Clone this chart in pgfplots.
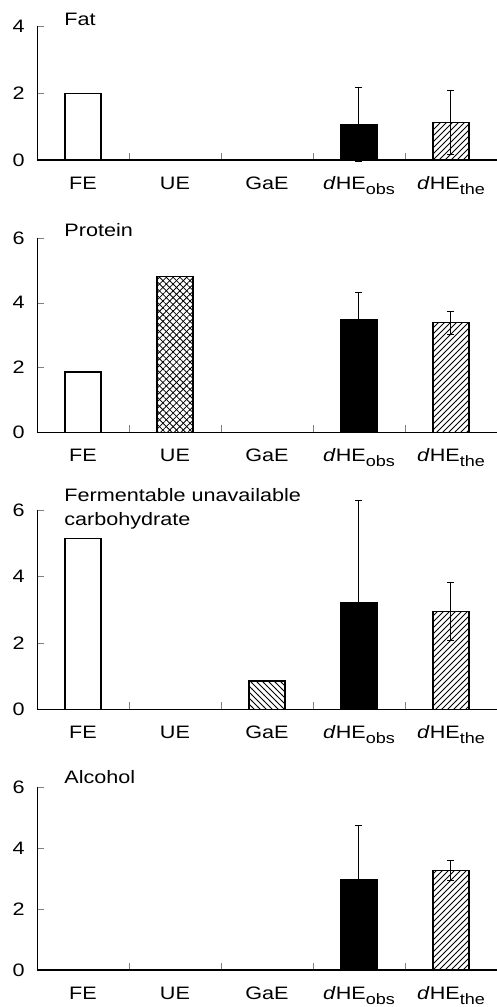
\documentclass[border=0pt]{standalone}
\usepackage{pgfplots}
\pgfplotsset{compat=1.18}
\usetikzlibrary{patterns,patterns.meta}
\usepackage{fontspec}
\setmainfont{Liberation Sans}[FakeStretch=1.2]

\newcommand{\sub}[1]{\raisebox{-2.6pt}{\fontsize{7.5}{8}\selectfont #1}}

% one px of the reference = 0.5pt
\pgfplotsset{
  panel/.style={
    scale only axis, width=230pt, anchor=south west,
    xmin=-0.5, xmax=4.5, ymin=0,
    axis x line=bottom, axis y line=left,
    axis line style={-},
    x axis line style={line width=0.6pt},
    y axis line style={line width=0.4pt},
    xtick={0,1,2,3,4},
    xticklabels={FE,UE,GaE,\textit{d}HE\sub{obs},\textit{d}HE\sub{the}},
    major x tick style={draw=none},
    minor xtick={0.5,1.5,2.5,3.5},
    minor tick style={line width=0.4pt},
    ytick distance=2,
    tick align=inside,
    major tick length=3.5pt, minor tick length=3.5pt,
    xticklabel style={anchor=base, yshift=-14.5pt},
    yticklabel style={xshift=-3pt},
    /pgf/number format/assume math mode=true,
    clip=false,
  },
  bars/.style={ybar, bar width=0.39, bar shift=0pt, draw=black, line width=0.6pt},
  err/.style={error bars/.cd, y dir=both, y explicit,
    error bar style={line width=0.5pt, black},
    error mark options={rotate=90, mark size=1.75pt, line width=0.5pt, black}},
}

\begin{document}
\fontsize{9}{10}\selectfont
\begin{tikzpicture}
\useasboundingbox (0,0) rectangle (248.5pt,-503.5pt);

% Fat
\begin{axis}[panel, at={(18.5pt,-80pt)}, height=67pt, ymax=4]
\addplot[bars, fill=white] coordinates {(0,1.98)};
\addplot[bars, fill=black, err] coordinates {(3,1.05) +- (0,1.10)};
\addplot[bars, pattern=north east lines, err] coordinates {(4,1.12) +- (0,0.95)};
\node[anchor=base west] at (rel axis cs:0,1) [xshift=10.5pt, yshift=0.5pt] {Fat};
\end{axis}

% Protein
\begin{axis}[panel, at={(18.5pt,-216.15pt)}, height=97.15pt, ymax=6]
\addplot[bars, fill=white] coordinates {(0,1.86)};
\addplot[bars, pattern={Lines[angle=45,distance=2.4pt,line width=0.4pt]}] coordinates {(1,4.81)};
\addplot[bars, pattern={Lines[angle=-45,distance=2.4pt,line width=0.4pt]}] coordinates {(1,4.81)};
\addplot[bars, fill=black, err] coordinates {(3,3.49) +- (0,0.82)};
\addplot[bars, pattern=north east lines, err] coordinates {(4,3.38) +- (0,0.35)};
\node[anchor=base west] at (rel axis cs:0,1) [xshift=10.5pt, yshift=1pt] {Protein};
\end{axis}

% Fermentable unavailable carbohydrate
\begin{axis}[panel, at={(18.5pt,-354.65pt)}, height=99.65pt, ymax=6]
\addplot[bars, fill=white] coordinates {(0,5.15)};
\addplot[bars, pattern=north west lines] coordinates {(2,0.85)};
\addplot[bars, fill=black, err] coordinates {(3,3.22) +- (0,3.06)};
\addplot[bars, pattern=north east lines, err] coordinates {(4,2.95) +- (0,0.87)};
\node[anchor=base west] at (rel axis cs:0,1) [xshift=10.5pt, yshift=4.15pt] {Fermentable unavailable};
\node[anchor=base west] at (rel axis cs:0,1) [xshift=10.5pt, yshift=-7.5pt] {carbohydrate};
\end{axis}

% Alcohol
\begin{axis}[panel, at={(18.5pt,-485pt)}, height=91.5pt, ymax=6]
\addplot[bars, fill=black, err] coordinates {(3,2.95) +- (0,1.78)};
\addplot[bars, pattern=north east lines, err] coordinates {(4,3.26) +- (0,0.34)};
\node[anchor=base west] at (rel axis cs:0,1) [xshift=10.5pt, yshift=1.85pt] {Alcohol};
\end{axis}

\end{tikzpicture}
\end{document}
